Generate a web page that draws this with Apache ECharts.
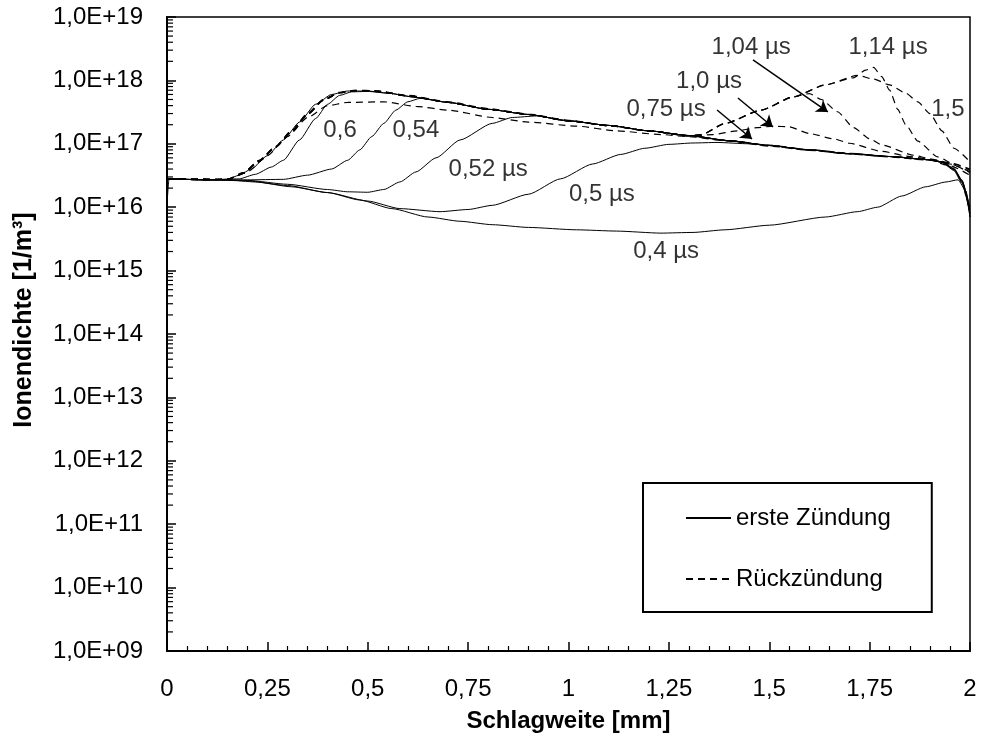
<!DOCTYPE html>
<html>
<head>
<meta charset="utf-8">
<script src="https://cdn.jsdelivr.net/npm/echarts@6/dist/echarts.min.js"></script>
<style>
html,body{margin:0;padding:0;background:#fff;}
#chart{width:982px;height:753px;}
</style>
</head>
<body>
<div id="chart"></div>
<script>
// ---------- data: [x in mm, ion density in 1/m^3] ----------
// erste Zündung (solid)
const s040 = [[0,1.1e16],[0.005,2.8e16],[0.1,2.7e16],[0.15,2.7e16],[0.22,2.5e16],[0.31,2.1e16],[0.4,1.7e16],[0.48,1.3e16],[0.56,9.5e15],[0.65,7e15],[0.73,6e15],[0.81,5.3e15],[0.9,4.8e15],[1.02,4.4e15],[1.12,4.2e15],[1.23,3.9e15],[1.31,4e15],[1.39,4.4e15],[1.5,5.2e15],[1.64,7e15],[1.72,8.5e15],[1.77,1e16],[1.83,1.5e16],[1.89,2.1e16],[1.94,2.5e16],[1.97,2.7e16],[1.99,1.8e16],[2.0,7e15]];
const s050 = [[0,2.8e16],[0.1,2.7e16],[0.2,2.6e16],[0.3,2.2e16],[0.4,1.7e16],[0.5,1.25e16],[0.58,9.5e15],[0.68,8.5e15],[0.75,9.2e15],[0.81,1.07e16],[0.9,1.6e16],[0.98,2.8e16],[1.06,4.8e16],[1.13,6.8e16],[1.19,8.5e16],[1.25,9.8e16],[1.31,1.03e17],[1.37,1.05e17],[1.45,1.0e17],[1.5,9.4e16],[1.6,8e16],[1.7,7e16],[1.8,6.3e16],[1.9,5.6e16],[1.93,5.1e16],[1.96,3.9e16],[1.98,2.5e16],[2.0,9e15]];
const s052 = [[0,2.8e16],[0.1,2.7e16],[0.2,2.65e16],[0.3,2.3e16],[0.4,1.9e16],[0.45,1.75e16],[0.5,1.72e16],[0.54,1.9e16],[0.58,2.5e16],[0.62,3.6e16],[0.67,6e16],[0.73,1.15e17],[0.81,2.1e17],[0.86,2.6e17],[0.92,2.75e17],[1.0,2.3e17],[1.1,1.95e17],[1.2,1.6e17],[1.3,1.35e17],[1.4,1.12e17],[1.5,9.4e16],[1.6,8e16],[1.7,7e16],[1.8,6.3e16],[1.9,5.6e16],[1.93,5.2e16],[1.96,4e16],[1.98,2.6e16],[2.0,1e16]];
const s054 = [[0,2.8e16],[0.1,2.7e16],[0.2,2.7e16],[0.29,2.75e16],[0.35,3.2e16],[0.41,4e16],[0.45,5.5e16],[0.48,8e16],[0.51,1.3e17],[0.54,2.1e17],[0.57,3.4e17],[0.6,4.6e17],[0.63,5.2e17],[0.7,4.5e17],[0.8,3.5e17],[0.9,2.9e17],[1.0,2.3e17],[1.1,1.95e17],[1.2,1.6e17],[1.3,1.35e17],[1.4,1.12e17],[1.5,9.4e16],[1.6,8e16],[1.7,7e16],[1.8,6.3e16],[1.9,5.6e16],[1.93,5.2e16],[1.96,4.1e16],[1.98,2.7e16],[2.0,8e15]];
const s060 = [[0,2.8e16],[0.1,2.7e16],[0.18,2.8e16],[0.22,3.3e16],[0.26,4.3e16],[0.29,5.5e16],[0.33,1.15e17],[0.37,2.5e17],[0.4,4.2e17],[0.43,5.8e17],[0.46,6.6e17],[0.5,6.7e17],[0.55,6.3e17],[0.62,5.4e17],[0.7,4.5e17],[0.8,3.5e17],[0.9,2.9e17],[1.0,2.3e17],[1.1,1.95e17],[1.2,1.6e17],[1.3,1.35e17],[1.4,1.12e17],[1.5,9.4e16],[1.6,8e16],[1.7,7e16],[1.8,6.3e16],[1.9,5.6e16],[1.93,5.1e16],[1.96,3.8e16],[1.98,2.4e16],[2.0,8e15]];
const sMain = [[0,2.8e16],[0.05,2.75e16],[0.1,2.7e16],[0.15,2.75e16],[0.18,3.2e16],[0.21,4e16],[0.25,6.5e16],[0.29,1.15e17],[0.33,2.2e17],[0.37,4.2e17],[0.41,6e17],[0.45,6.8e17],[0.5,6.8e17],[0.55,6.3e17],[0.62,5.4e17],[0.7,4.5e17],[0.8,3.5e17],[0.9,2.9e17],[1.0,2.3e17],[1.1,1.95e17],[1.2,1.6e17],[1.3,1.35e17],[1.4,1.12e17],[1.5,9.4e16],[1.6,8e16],[1.7,7e16],[1.8,6.3e16],[1.9,5.6e16],[1.93,5.2e16],[1.96,4e16],[1.98,2.6e16],[1.99,1.5e16],[2.0,7e15]];
// Rückzündung (dashed)
const d060 = [[0,2.8e16],[0.1,2.7e16],[0.15,2.75e16],[0.2,3.6e16],[0.25,6.5e16],[0.3,1.3e17],[0.35,2.6e17],[0.4,4e17],[0.45,4.5e17],[0.54,4.6e17],[0.62,3.9e17],[0.7,3.4e17],[0.81,2.6e17],[0.9,2.2e17],[1.02,1.9e17],[1.12,1.6e17],[1.23,1.4e17],[1.3,1.3e17],[1.4,1.1e17],[1.5,9.2e16],[1.6,7.9e16],[1.7,6.9e16],[1.8,6.2e16],[1.9,5.5e16],[1.95,4.5e16],[2.0,3.2e16]];
const d075 = [[0,2.8e16],[0.1,2.7e16],[0.15,2.75e16],[0.19,3.5e16],[0.23,5.5e16],[0.27,9e16],[0.31,1.6e17],[0.35,3e17],[0.39,5e17],[0.43,6.5e17],[0.47,7e17],[0.52,6.9e17],[0.6,5.8e17],[0.7,4.6e17],[0.8,3.6e17],[0.9,2.95e17],[1.0,2.35e17],[1.1,1.95e17],[1.2,1.6e17],[1.3,1.33e17],[1.4,1.12e17],[1.5,9.5e16],[1.6,8.1e16],[1.7,7.1e16],[1.8,6.3e16],[1.9,5.6e16],[1.95,4.8e16],[2.0,3.5e16]];
const d100 = [[0,2.8e16],[0.15,2.75e16],[0.19,3.5e16],[0.23,5.5e16],[0.27,9e16],[0.31,1.6e17],[0.35,3e17],[0.39,5e17],[0.43,6.4e17],[0.47,6.9e17],[0.52,6.8e17],[0.6,5.7e17],[0.7,4.5e17],[0.8,3.5e17],[0.9,2.9e17],[1.0,2.3e17],[1.1,1.93e17],[1.2,1.6e17],[1.3,1.34e17],[1.36,1.4e17],[1.42,1.6e17],[1.47,1.8e17],[1.51,1.9e17],[1.55,1.85e17],[1.6,1.45e17],[1.66,1.2e17],[1.7,1.02e17],[1.78,7.6e16],[1.85,6.3e16],[1.9,5.7e16],[1.95,4.8e16],[2.0,3.6e16]];
const d104 = [[0,2.8e16],[0.15,2.75e16],[0.19,3.4e16],[0.23,5.3e16],[0.27,8.8e16],[0.31,1.55e17],[0.35,2.9e17],[0.39,4.9e17],[0.43,6.4e17],[0.47,6.9e17],[0.52,6.8e17],[0.6,5.7e17],[0.7,4.5e17],[0.8,3.5e17],[0.9,2.9e17],[1.0,2.3e17],[1.1,1.93e17],[1.2,1.6e17],[1.3,1.34e17],[1.33,1.38e17],[1.39,2.1e17],[1.48,3.4e17],[1.56,5.5e17],[1.6,6.2e17],[1.63,5e17],[1.67,3.2e17],[1.71,1.8e17],[1.75,1.2e17],[1.78,9.6e16],[1.86,6.6e16],[1.9,5.8e16],[1.95,5e16],[2.0,4e16]];
const d114 = [[0,2.8e16],[0.15,2.75e16],[0.19,3.4e16],[0.23,5.3e16],[0.27,8.8e16],[0.31,1.55e17],[0.35,2.9e17],[0.39,4.9e17],[0.43,6.4e17],[0.47,6.9e17],[0.52,6.8e17],[0.6,5.7e17],[0.7,4.5e17],[0.8,3.5e17],[0.9,2.9e17],[1.0,2.3e17],[1.1,1.93e17],[1.2,1.6e17],[1.3,1.34e17],[1.33,1.38e17],[1.39,2.1e17],[1.48,3.4e17],[1.56,5.5e17],[1.64,8.5e17],[1.71,1.1e18],[1.74,1.45e18],[1.76,1.6e18],[1.78,1.15e18],[1.8,7e17],[1.82,3.5e17],[1.84,2e17],[1.87,1.1e17],[1.92,6.2e16],[1.96,4.8e16],[2.0,3.8e16]];
const d150 = [[0,2.8e16],[0.15,2.75e16],[0.19,3.4e16],[0.23,5.3e16],[0.27,8.8e16],[0.31,1.55e17],[0.35,2.9e17],[0.39,4.9e17],[0.43,6.4e17],[0.47,6.9e17],[0.52,6.8e17],[0.6,5.7e17],[0.7,4.5e17],[0.8,3.5e17],[0.9,2.9e17],[1.0,2.3e17],[1.1,1.93e17],[1.2,1.6e17],[1.3,1.34e17],[1.33,1.38e17],[1.39,2.1e17],[1.48,3.4e17],[1.56,5.5e17],[1.64,8.5e17],[1.72,1.2e18],[1.76,1.05e18],[1.8,8.5e17],[1.84,6.3e17],[1.87,4.6e17],[1.9,3e17],[1.93,1.6e17],[1.96,8.5e16],[2.0,5.2e16]];

// annotation texts and their anchor points
const annTexts = ['0,6','0,54','0,52 µs','0,5 µs','0,4 µs','0,75 µs','1,0 µs','1,04 µs','1,14 µs','1,5'];
const annPos = [[0.431,1.65e17],[0.62,1.65e17],[0.80,4.0e16],[1.083,1.62e16],[1.243,2.04e15],[1.243,3.54e17],[1.35,9.8e17],[1.455,3.36e18],[1.796,3.36e18],[1.945,3.54e17]];
// arrows: [start, end]
const arrows = [
  [[1.4595,2.1e18],[1.646,3.18e17]],
  [[1.422,5.27e17],[1.509,1.84e17]],
  [[1.370,3.41e17],[1.457,1.19e17]]
];

// axis settings
const xTickValues = [0,0.25,0.5,0.75,1,1.25,1.5,1.75,2];
const yExpMin = 9, yExpMax = 19;
const minorMultipliers = [2,3,4,5,6,7,8,9];

const FONT = 'Liberation Sans, Arial, sans-serif';
const solidNames = [s040,s050,s052,s054,s060,sMain];
const dashedNames = [d060,d075,d100,d104,d114,d150];

const series = [];
solidNames.forEach(d => series.push({
  name: 'erste Zündung', type: 'line', data: d, showSymbol: false, symbol: 'none',
  smooth: 0.2, smoothMonotone: 'x',
  lineStyle: {color: '#000', width: 1, type: 'solid'}, itemStyle: {color: '#000'}, z: 3
}));
dashedNames.forEach(d => series.push({
  name: 'Rückzündung', type: 'line', data: d, showSymbol: false, symbol: 'none',
  smooth: 0.2, smoothMonotone: 'x',
  lineStyle: {color: '#000', width: 1.2, type: [7, 5]}, itemStyle: {color: '#000'}, z: 3
}));
series.push({
  name: 'ann', type: 'scatter', symbolSize: 0, silent: true, z: 5,
  data: annTexts.map((t, i) => ({name: t, value: annPos[i]})),
  label: {show: true, position: 'inside', formatter: '{b}', color: '#000', fontFamily: FONT, fontSize: 24},
  markLine: {
    silent: true, animation: false, symbol: ['none', 'arrow'], symbolSize: 11,
    label: {show: false},
    lineStyle: {color: '#000', width: 1.5, type: 'solid'},
    data: arrows.map(a => [{coord: a[0]}, {coord: a[1]}])
  }
});

const chart = echarts.init(document.getElementById('chart'), null, {renderer: 'canvas'});
chart.setOption({
  animation: false,
  backgroundColor: '#fff',
  textStyle: {fontFamily: FONT, color: '#000'},
  grid: {left: 167, right: 12, top: 17, bottom: 102, show: true, borderColor: '#000', borderWidth: 1.5, containLabel: false},
  legend: {
    data: ['erste Zündung', 'Rückzündung'], orient: 'vertical', left: 643, top: 483,
    padding: [23, 41, 21, 42], itemGap: 37, itemWidth: 45, itemHeight: 14,
    itemStyle: {opacity: 0},
    borderColor: '#000', borderWidth: 2, backgroundColor: '#fff',
    textStyle: {fontFamily: FONT, fontSize: 24, color: '#000'}, selectedMode: false
  },
  xAxis: {
    type: 'value', min: 0, max: 2, interval: 0.25,
    name: 'Schlagweite [mm]', nameLocation: 'middle', nameGap: 58,
    nameTextStyle: {fontFamily: FONT, fontSize: 24, fontWeight: 'bold', color: '#000'},
    axisLine: {show: true, onZero: false, lineStyle: {color: '#000', width: 2}},
    axisTick: {show: true, inside: true, length: 9, lineStyle: {color: '#000', width: 1.5}},
    minorTick: {show: true, splitNumber: 5, length: 5, lineStyle: {color: '#000', width: 1.2}},
    axisLabel: {margin: 26, fontSize: 24, fontFamily: FONT, color: '#000',
      formatter: v => xTickValues.includes(+v.toFixed(2)) ? String(+v.toFixed(2)).replace('.', ',') : ''},
    splitLine: {show: false}
  },
  yAxis: {
    type: 'log', logBase: 10, min: Math.pow(10, yExpMin), max: Math.pow(10, yExpMax), interval: 1,
    name: 'Ionendichte [1/m³]', nameLocation: 'middle', nameGap: 130, nameRotate: 90,
    nameTextStyle: {fontFamily: FONT, fontSize: 25, fontWeight: 'bold', color: '#000', padding: [0, 0, 0, 28]},
    axisLine: {show: true, lineStyle: {color: '#000', width: 2}},
    axisTick: {show: true, inside: true, length: 9, lineStyle: {color: '#000', width: 1.5}},
    minorTick: {show: false},
    axisLabel: {margin: 24, fontSize: 24, fontFamily: FONT, color: '#000',
      formatter: v => { const e = Math.round(Math.log10(v)); return '1,0E+' + (e < 10 ? '0' + e : e); }},
    splitLine: {show: false}
  },
  series: series
});

// logarithmic minor ticks (2..9 per decade) on the y axis, positioned through the axis scale
const minorTickGraphics = [];
for (let e = yExpMin; e < yExpMax; e++) {
  for (const m of minorMultipliers) {
    const p = chart.convertToPixel({xAxisIndex: 0, yAxisIndex: 0}, [0, m * Math.pow(10, e)]);
    minorTickGraphics.push({
      type: 'rect', silent: true, z: 100,
      shape: {x: p[0], y: p[1] - 0.6, width: 6, height: 1.2},
      style: {fill: '#000'}
    });
  }
}
chart.setOption({graphic: {elements: minorTickGraphics}});
</script>
</body>
</html>
